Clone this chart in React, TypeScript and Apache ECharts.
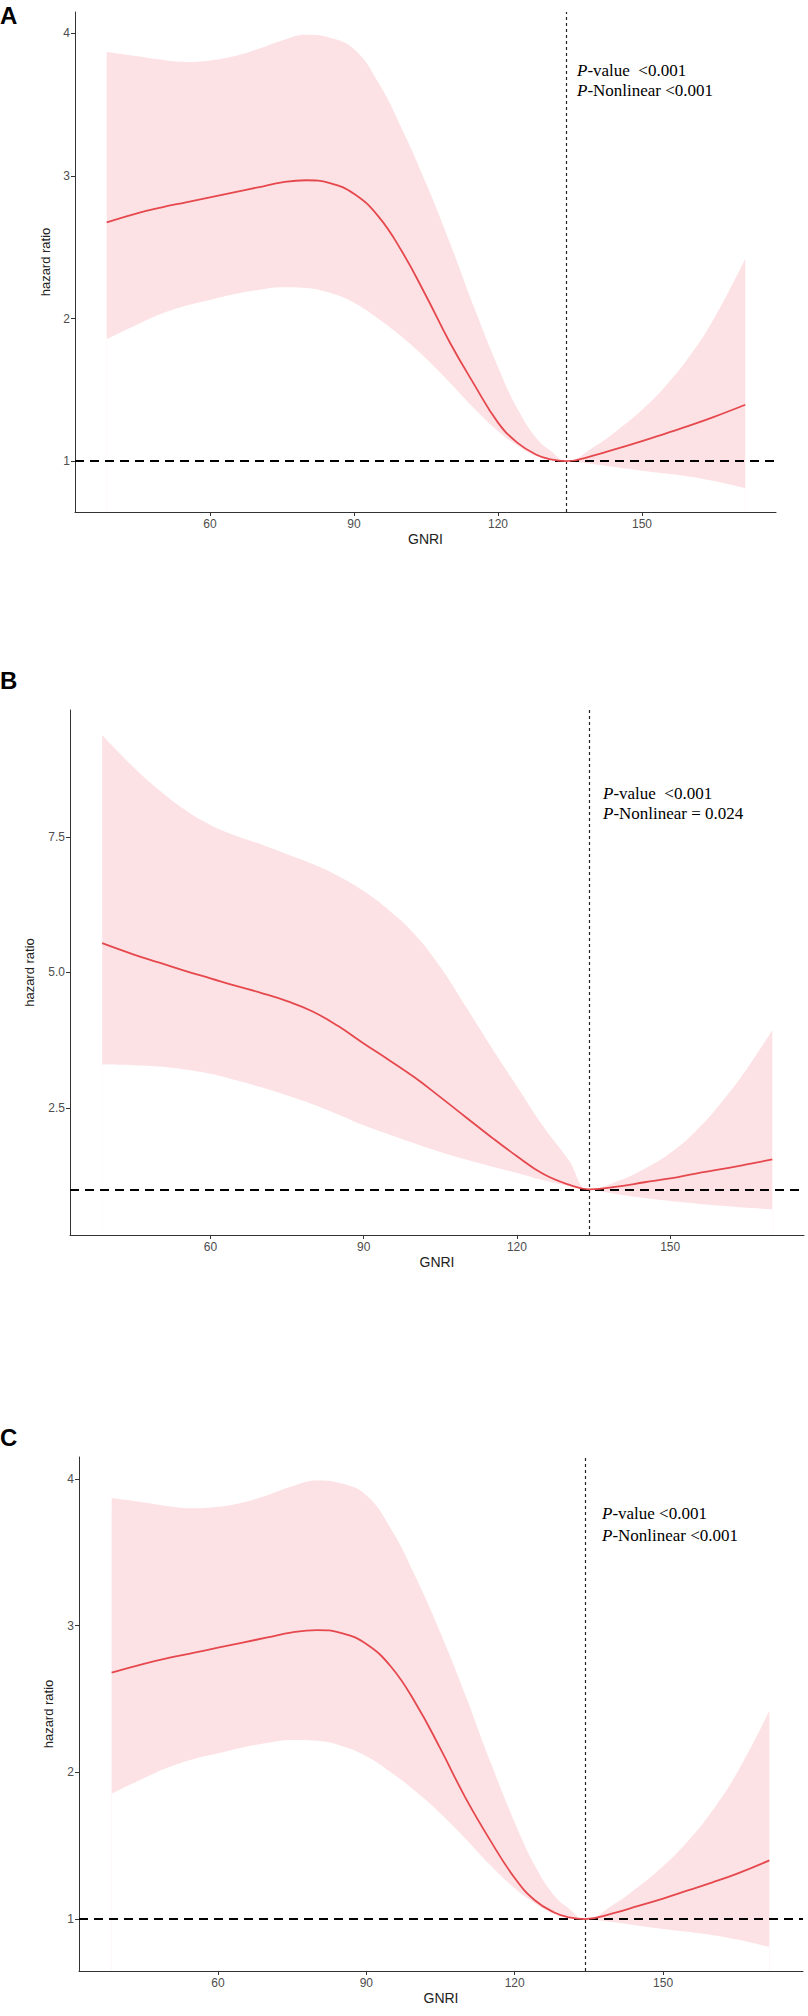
import React, { useEffect, useRef } from "react";
import * as echarts from "echarts";

// ---------- Panel A ----------
const gnriA = [38.5, 45, 50, 55, 60, 65, 70, 75, 80, 85, 90, 95, 100, 105, 110, 115, 120, 124, 128, 131, 134.2, 140, 145, 150, 155, 160, 165, 171.5];
const hrA = [2.675, 2.74, 2.78, 2.815, 2.85, 2.885, 2.92, 2.955, 2.97, 2.95, 2.875, 2.72, 2.47, 2.16, 1.83, 1.54, 1.27, 1.13, 1.045, 1.012, 1.0, 1.04, 1.09, 1.14, 1.195, 1.25, 1.31, 1.395];
const upperA = [3.87, 3.84, 3.815, 3.8, 3.81, 3.84, 3.89, 3.95, 3.99, 3.97, 3.89, 3.66, 3.33, 2.95, 2.53, 2.08, 1.66, 1.37, 1.16, 1.07, 1.0, 1.1, 1.22, 1.36, 1.53, 1.74, 2.0, 2.42];
const lowerA = [1.855, 1.96, 2.035, 2.09, 2.13, 2.17, 2.2, 2.22, 2.215, 2.18, 2.11, 2.0, 1.87, 1.72, 1.55, 1.37, 1.21, 1.11, 1.035, 1.01, 1.0, 0.978, 0.955, 0.933, 0.913, 0.89, 0.86, 0.81];

// ---------- Panel B ----------
const gnriB = [38.8, 45, 50, 55, 60, 65, 70, 75, 80, 85, 90, 95, 100, 105, 110, 115, 120, 125, 130, 134.2, 140, 145, 150, 155, 160, 165, 170];
const hrB = [5.54, 5.33, 5.18, 5.03, 4.89, 4.75, 4.62, 4.47, 4.28, 4.01, 3.69, 3.38, 3.06, 2.7, 2.33, 1.96, 1.61, 1.29, 1.09, 1.0, 1.055, 1.13, 1.2, 1.29, 1.37, 1.46, 1.55];
const upperB = [9.38, 8.78, 8.36, 8.0, 7.72, 7.52, 7.36, 7.18, 7.0, 6.78, 6.5, 6.14, 5.7, 5.1, 4.37, 3.62, 2.9, 2.18, 1.56, 1.0, 1.16, 1.38, 1.67, 2.07, 2.6, 3.22, 3.94];
const lowerB = [3.3, 3.29, 3.265, 3.21, 3.13, 3.01, 2.88, 2.73, 2.57, 2.38, 2.18, 2.01, 1.845, 1.69, 1.55, 1.42, 1.3, 1.17, 1.065, 1.0, 0.905, 0.84, 0.785, 0.74, 0.695, 0.66, 0.63];

// ---------- Panel C ----------
const gnriC = [38.5, 45, 50, 55, 60, 65, 70, 75, 80, 85, 90, 95, 100, 105, 110, 115, 120, 124, 128, 131, 134.2, 140, 145, 150, 155, 160, 165, 171.5];
const hrC = [2.68, 2.74, 2.78, 2.815, 2.85, 2.885, 2.92, 2.955, 2.97, 2.95, 2.875, 2.72, 2.47, 2.16, 1.83, 1.54, 1.28, 1.13, 1.045, 1.012, 1.0, 1.04, 1.09, 1.14, 1.195, 1.25, 1.31, 1.4];
const upperC = [3.87, 3.84, 3.815, 3.8, 3.81, 3.84, 3.89, 3.95, 3.99, 3.97, 3.89, 3.66, 3.33, 2.95, 2.53, 2.08, 1.66, 1.37, 1.16, 1.07, 1.0, 1.1, 1.22, 1.36, 1.53, 1.74, 2.0, 2.42];
const lowerC = [1.855, 1.96, 2.035, 2.09, 2.13, 2.17, 2.2, 2.22, 2.215, 2.18, 2.11, 2.0, 1.87, 1.72, 1.55, 1.37, 1.21, 1.11, 1.035, 1.01, 1.0, 0.978, 0.955, 0.933, 0.913, 0.89, 0.86, 0.81];

// ---------- Axes / annotations ----------
const xTicks = [60, 90, 120, 150];
const yTicksAC = [1, 2, 3, 4];
const yTicksB = [2.5, 5.0, 7.5];
const knotGNRI = 134.2;
const refHR = 1;
const panelLetters = ["A", "B", "C"];
const pTextA = ["-value  <0.001", "-Nonlinear <0.001"];
const pTextB = ["-value  <0.001", "-Nonlinear = 0.024"];
const pTextC = ["-value <0.001", "-Nonlinear <0.001"];

const SANS = "Liberation Sans, Arial, Helvetica, sans-serif";
const SERIF = "Liberation Serif, Times New Roman, serif";
const BAND = "#FDE2E5";
const LINE = "#E5484D";
const SMOOTH = 0.45;

const panels = [
  { g: gnriA, hr: hrA, up: upperA, lo: lowerA, grid: { left: 75, top: 12, width: 701, height: 500 }, xMin: 31.9, xMax: 177.9, yMin: 0.643, yMax: 4.15, yTicks: yTicksAC, dec: 0, yNameGap: 22, ptext: pTextA, px: 577, py: 60, lh: 20, letterY: 3 },
  { g: gnriB, hr: hrB, up: upperB, lo: lowerB, grid: { left: 70, top: 710, width: 734, height: 525 }, xMin: 32.5, xMax: 176.2, yMin: 0.157, yMax: 9.84, yTicks: yTicksB, dec: 1, yNameGap: 34, ptext: pTextB, px: 603, py: 783, lh: 20, letterY: 668 },
  { g: gnriC, hr: hrC, up: upperC, lo: lowerC, grid: { left: 79, top: 1457, width: 724, height: 514 }, xMin: 31.9, xMax: 178.3, yMin: 0.646, yMax: 4.15, yTicks: yTicksAC, dec: 0, yNameGap: 24, ptext: pTextC, px: 602, py: 1502, lh: 22, letterY: 1425 },
];

function buildOption() {
  const grid: any[] = [];
  const xAxis: any[] = [];
  const yAxis: any[] = [];
  const series: any[] = [];
  const graphic: any[] = [];
  const title: any[] = [];

  panels.forEach((p, i) => {
    grid.push({ ...p.grid, containLabel: false });
    xAxis.push({
      type: "value",
      gridIndex: i,
      min: p.xMin,
      max: p.xMax,
      z: 4,
      splitLine: { show: false },
      axisLine: { show: true, onZero: false, lineStyle: { color: "#333333", width: 1 } },
      axisTick: { show: true, customValues: xTicks, length: 4, lineStyle: { color: "#333333" } },
      axisLabel: { customValues: xTicks, color: "#4D4D4D", fontSize: 12, fontFamily: SANS, margin: 6 },
      name: "GNRI",
      nameLocation: "middle",
      nameGap: 20,
      nameTextStyle: { color: "#222222", fontSize: 14, fontFamily: SANS },
    });
    yAxis.push({
      type: "value",
      gridIndex: i,
      min: p.yMin,
      max: p.yMax,
      z: 4,
      splitLine: { show: false },
      axisLine: { show: true, onZero: false, lineStyle: { color: "#333333", width: 1 } },
      axisTick: { show: true, customValues: p.yTicks, length: 4, lineStyle: { color: "#333333" } },
      axisLabel: {
        customValues: p.yTicks,
        color: "#4D4D4D",
        fontSize: 12,
        fontFamily: SANS,
        margin: 5,
        formatter: (v: number) => v.toFixed(p.dec),
      },
      name: "hazard ratio",
      nameLocation: "middle",
      nameGap: p.yNameGap,
      nameTextStyle: { color: "#222222", fontSize: 13, fontFamily: SANS },
    });

    // upper CI filled down to the axis in pink
    series.push({
      type: "line",
      xAxisIndex: i,
      yAxisIndex: i,
      data: p.g.map((x, k) => [x, p.up[k]]),
      symbol: "none",
      smooth: SMOOTH,
      silent: true,
      lineStyle: { width: 0, opacity: 0 },
      areaStyle: { color: BAND, opacity: 1, origin: "start" },
      z: 1,
    });
    // lower CI filled down to the axis in white (masks the pink below it)
    series.push({
      type: "line",
      xAxisIndex: i,
      yAxisIndex: i,
      data: p.g.map((x, k) => [x, p.lo[k]]),
      symbol: "none",
      smooth: SMOOTH,
      silent: true,
      lineStyle: { width: 0, opacity: 0 },
      areaStyle: { color: "#ffffff", opacity: 1, origin: "start" },
      z: 2,
    });
    series.push({
      type: "line",
      xAxisIndex: i,
      yAxisIndex: i,
      data: p.g.map((x, k) => [x, p.hr[k]]),
      symbol: "none",
      smooth: SMOOTH,
      silent: true,
      lineStyle: { color: LINE, width: 1.8 },
      z: 5,
      markLine: {
        silent: true,
        symbol: "none",
        label: { show: false },
        data: [
          { yAxis: refHR, lineStyle: { type: [9, 6], width: 2, color: "#000000" } },
          { xAxis: knotGNRI, lineStyle: { type: [3, 3], width: 1.2, color: "#222222" } },
        ],
      },
    });

    graphic.push({
      type: "text",
      left: 0,
      top: p.letterY,
      z: 10,
      style: { text: panelLetters[i], fontSize: 24, fontWeight: "bold", fontFamily: SANS, fill: "#000000" },
    });

    title.push({
      left: p.px,
      top: p.py,
      padding: 0,
      text: p.ptext.map((t) => "{i|P}{n|" + t + "}").join("\n"),
      textStyle: {
        fontSize: 17,
        fontFamily: SERIF,
        fontWeight: "normal",
        color: "#000000",
        lineHeight: p.lh,
        rich: {
          i: { fontStyle: "italic", fontWeight: "normal", fontSize: 17, fontFamily: SERIF, color: "#000000", lineHeight: p.lh },
          n: { fontWeight: "normal", fontSize: 17, fontFamily: SERIF, color: "#000000", lineHeight: p.lh },
        },
      },
    });
  });

  return {
    animation: false,
    backgroundColor: "#ffffff",
    title,
    grid,
    xAxis,
    yAxis,
    series,
    graphic,
  };
}

export default function App() {
  const ref = useRef<HTMLDivElement>(null);
  useEffect(() => {
    if (!ref.current) return;
    const chart = echarts.init(ref.current, undefined, { renderer: "svg" });
    chart.setOption(buildOption() as any);
    return () => chart.dispose();
  }, []);
  return (
    <div
      ref={ref}
      style={{ position: "absolute", left: 0, top: 0, width: 808, height: 2016, background: "#fff" }}
    />
  );
}
